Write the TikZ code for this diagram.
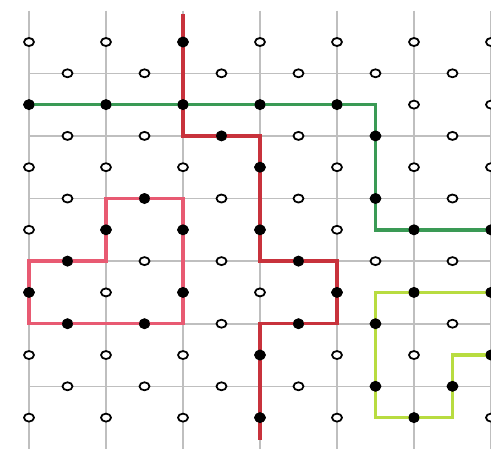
\documentclass[tikz,border=0pt]{standalone}
\definecolor{zred}{HTML}{C8323C}
\definecolor{zpink}{HTML}{E85A72}
\definecolor{xgreen}{HTML}{3A9A55}
\definecolor{xlime}{HTML}{B8DC40}
\usepackage{tikz}
\usetikzlibrary{shapes.geometric}

\begin{document}
\begin{tikzpicture}[x=0.385cm, y=-0.313cm,
  grid/.style={draw=black!25, line width=0.45pt},
  qoff/.style={ellipse, draw=black, fill=white, line width=0.5pt,
               minimum width=0.1cm, minimum height=0.08cm, inner sep=0pt},
  qon/.style={circle, fill=black, minimum size=0.11cm, inner sep=0pt},
  chain/.style={line width=1pt, line join=miter},
]
\useasboundingbox (-0.753,-1.342) rectangle (12.0,13.0);
\clip (-0.753,-1.342) rectangle (12.0,13.0);

% lattice
\foreach \m in {0,2,...,12}
  \draw[grid] (\m,-1) -- (\m,13.1);
\foreach \k in {1,3,...,11}
  \draw[grid] (0,\k) -- (12.3,\k);

% qubits
\foreach \m in {0,...,12}
  \foreach \k in {0,...,12}{
    \pgfmathtruncatemacro{\qpar}{mod(\m+\k,2)}
    \ifnum\qpar=0
      \node[qoff] (q-\m-\k) at (\m,\k) {};
    \fi
  }

% strings
\draw[chain, zred] (4,-0.9) -- (4,3) -- (6,3) -- (6,7) -- (8,7) -- (8,9)
  -- (6,9) -- (6,12.7);
\draw[chain, zpink] (2,5) -- (4,5) -- (4,9) -- (0,9) -- (0,7) -- (2,7) -- cycle;
\draw[chain, xgreen] (0,2) -- (9,2) -- (9,6) -- (12.3,6);
\draw[chain, xlime] (12.3,8) -- (9,8) -- (9,12) -- (11,12) -- (11,10) -- (12.3,10);

% flipped qubits
\foreach \m/\k in {4/0,4/2,5/3,6/4,6/6,7/7,8/8,7/9,6/10,6/12,
                   3/5,4/6,4/8,3/9,1/9,0/8,1/7,2/6,
                   0/2,2/2,6/2,8/2,9/3,9/5,10/6,12/6,
                   10/8,12/8,9/9,9/11,10/12,11/11,12/10}
  \node[qon] (p-\m-\k) at (\m,\k) {};
\end{tikzpicture}
\end{document}
